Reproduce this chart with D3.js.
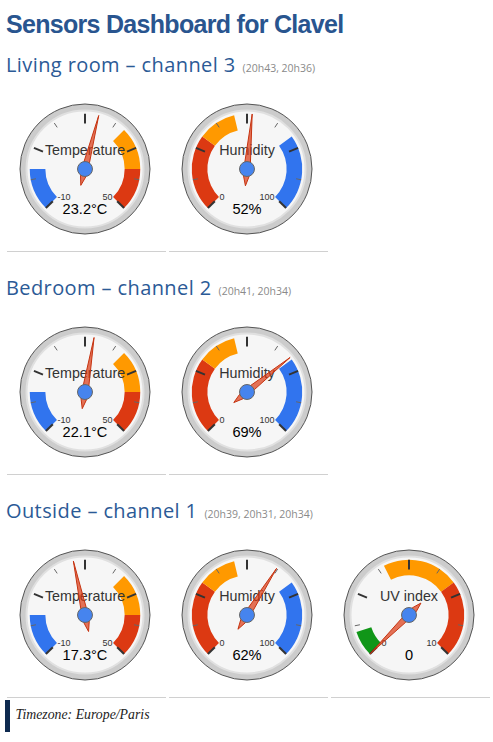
<!DOCTYPE html>
<html><head><meta charset="utf-8">
<script src="https://cdn.jsdelivr.net/npm/d3@7"></script>
<style>html,body{margin:0;padding:0;background:#fff;} svg{display:block;}</style>
</head><body><svg id="c" width="493" height="742"></svg>
<script>
// ---- data ----
const pageTitle = "Sensors Dashboard for Clavel";
const sectionNames = ["Living room – channel 3", "Bedroom – channel 2", "Outside – channel 1"];
const sectionTimes = ["(20h43, 20h36)", "(20h41, 20h34)", "(20h39, 20h31, 20h34)"];
const temperatureValues = [23.2, 22.1, 17.3];
const humidityValues = [52, 69, 62];
const uvValues = [null, null, 0];
const footerText = "Timezone: Europe/Paris";

const temperatureBands = [[-10, 0, "#3174ee"], [30, 40, "#ff9900"], [40, 50, "#dc3912"]];
const humidityBands = [[0, 30, "#dc3912"], [30, 45, "#ff9900"], [70, 100, "#3174ee"]];
const uvBands = [[0, 1, "#109618"], [4, 7, "#ff9900"], [7, 10, "#dc3912"]];

const gaugeTypes = [
  {label: "Temperature", min: -10, max: 50, bands: temperatureBands, values: temperatureValues, fmt: v => v.toFixed(1) + "°C"},
  {label: "Humidity", min: 0, max: 100, bands: humidityBands, values: humidityValues, fmt: v => v + "%"},
  {label: "UV index", min: 0, max: 10, bands: uvBands, values: uvValues, fmt: v => String(v)}
];

// ---- drawing ----
const svg = d3.select("#c");
const R = 65;

svg.append("text").attr("x", 6).attr("y", 33)
  .attr("font-family", "'Liberation Sans', Arial, sans-serif").attr("font-weight", "bold")
  .attr("font-size", 25).attr("letter-spacing", "-0.7px").attr("fill", "#29558f")
  .text(pageTitle);

function drawGauge(g, type, value) {
  const ang = d3.scaleLinear().domain([type.min, type.max]).range([-135, 135]);
  const rad = v => ang(v) * Math.PI / 180;
  const pt = (v, r) => [r * Math.sin(rad(v)), -r * Math.cos(rad(v))];

  g.append("circle").attr("r", R).attr("fill", "#cccccc").attr("stroke", "#555").attr("stroke-width", 1);
  g.append("circle").attr("r", R * 0.9).attr("fill", "#f6f6f6").attr("stroke", "#e0e0e0").attr("stroke-width", 2);

  const arc = d3.arc().innerRadius(R * 0.61).outerRadius(R * 0.85);
  g.selectAll("path.band").data(type.bands).join("path").attr("class", "band")
    .attr("d", d => arc({startAngle: rad(d[0]), endAngle: rad(d[1])}))
    .attr("fill", d => d[2]);

  const span = type.max - type.min;
  const majors = d3.range(5).map(i => type.min + i * span / 4);
  const minors = d3.range(4).map(i => type.min + (i + 0.5) * span / 4);
  g.selectAll("line.minor").data(minors).join("line").attr("class", "minor")
    .attr("x1", d => pt(d, R * 0.77)[0]).attr("y1", d => pt(d, R * 0.77)[1])
    .attr("x2", d => pt(d, R * 0.85)[0]).attr("y2", d => pt(d, R * 0.85)[1])
    .attr("stroke", "#666").attr("stroke-width", 1);
  g.selectAll("line.major").data(majors).join("line").attr("class", "major")
    .attr("x1", d => pt(d, R * 0.7)[0]).attr("y1", d => pt(d, R * 0.7)[1])
    .attr("x2", d => pt(d, R * 0.85)[0]).attr("y2", d => pt(d, R * 0.85)[1])
    .attr("stroke", "#333").attr("stroke-width", 2);

  const sans = "'Liberation Sans', Arial, sans-serif";
  g.append("text").attr("x", 0).attr("y", -14).attr("text-anchor", "middle")
    .attr("font-family", sans).attr("font-size", 14.3).attr("fill", "#333").text(type.label);

  [[type.min, "start"], [type.max, "end"]].forEach(([v, anchor]) => {
    const p = pt(v, R * 0.6);
    g.append("text").attr("x", p[0]).attr("y", p[1]).attr("dy", "0.35em")
      .attr("text-anchor", anchor).attr("font-family", sans).attr("font-size", 9)
      .attr("fill", "#333").text(v);
  });

  g.append("text").attr("x", 0).attr("y", 45).attr("text-anchor", "middle")
    .attr("font-family", sans).attr("font-size", 14.6).attr("fill", "#000").text(type.fmt(value));

  const delta = span / 13;
  const tailV = value - span * (360 / 270) / 2;
  const pts = [pt(value, R * 0.85), pt(value - delta, R * 0.12), pt(tailV + delta, R * 0.12),
               pt(tailV, R * 0.26), pt(tailV - delta, R * 0.12), pt(value + delta, R * 0.12)];
  g.append("path").attr("d", d3.line()(pts) + "Z")
    .attr("fill", "#dc3912").attr("fill-opacity", 0.7).attr("stroke", "#c63310").attr("stroke-width", 1);

  g.append("circle").attr("r", R * 0.115).attr("fill", "#4684ee").attr("stroke", "#666").attr("stroke-width", 1);
}

sectionNames.forEach((name, i) => {
  const base = 72 + i * 223;
  const h = svg.append("text").attr("x", 6).attr("y", base)
    .attr("font-family", "'Open Sans', sans-serif").attr("font-size", 20).attr("letter-spacing", "0.4px")
    .attr("fill", "#2b5a96")
    .text(name);
  const w = h.node().getComputedTextLength();
  svg.append("text").attr("x", 6 + w + 7).attr("y", base)
    .attr("font-family", "'Open Sans', sans-serif").attr("font-size", 10.5).attr("fill", "#8a8a8a")
    .text(sectionTimes[i]);

  let col = 0;
  gaugeTypes.forEach(type => {
    const v = type.values[i];
    if (v === null || v === undefined) return;
    const cx = 85 + col * 162;
    const g = svg.append("g").attr("transform", `translate(${cx},${base + 97})`);
    drawGauge(g, type, v);
    svg.append("line").attr("x1", 7 + col * 162).attr("x2", 166 + col * 162)
      .attr("y1", base + 179.5).attr("y2", base + 179.5).attr("stroke", "#d0d0d0").attr("stroke-width", 1);
    col++;
  });
});

svg.append("rect").attr("x", 5).attr("y", 700).attr("width", 5).attr("height", 32).attr("fill", "#0e2a4f");
svg.append("text").attr("x", 15.5).attr("y", 719)
  .attr("font-family", "'Liberation Serif', 'Times New Roman', serif").attr("font-style", "italic")
  .attr("font-size", 13.8).attr("fill", "#222").text(footerText);
</script></body></html>
